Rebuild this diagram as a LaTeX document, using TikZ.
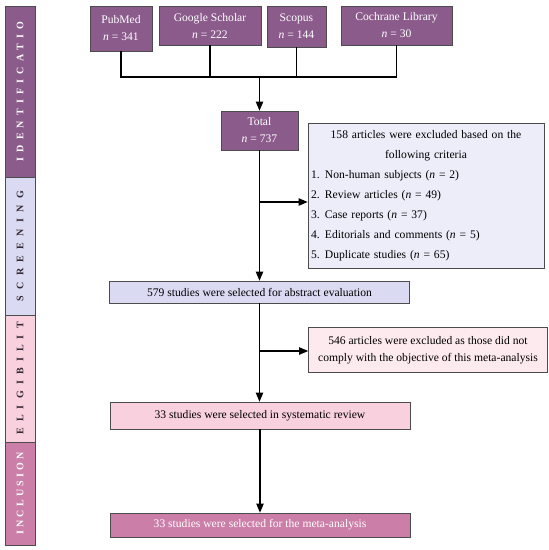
\documentclass[tikz,border=0pt]{standalone}
\usepackage{fontspec}
\setmainfont{Liberation Serif}
\usetikzlibrary{arrows, arrows.meta}

\definecolor{identpurple}{RGB}{139,91,140}
\definecolor{screenblue}{RGB}{218,218,242}
\definecolor{screenlight}{RGB}{237,237,250}
\definecolor{eligpink}{RGB}{248,208,222}
\definecolor{eliglight}{RGB}{253,234,239}
\definecolor{inclmauve}{RGB}{203,126,167}
\definecolor{bandtext}{RGB}{50,40,50}

\newcommand{\spaced}[2]{\addfontfeature{LetterSpace=#1}#2}

\tikzset{
  box/.style={draw=black!70, line width=0.7pt, inner sep=3pt, align=center,
    font=\fontsize{11.6}{17}\selectfont},
  source/.style={box, fill=identpurple, text=white},
  band/.style={draw=black!70, line width=0.7pt, minimum height=30pt,
    inner sep=0pt, rotate=90, font=\fontsize{10}{10}\selectfont\bfseries},
  flow/.style={line width=1.1pt, >=triangle 45},
}

\begin{document}
\begin{tikzpicture}[x=1pt,y=-1pt]
\useasboundingbox (0,0) rectangle (549,550);

% stage bands on the left
\node[band, fill=identpurple, text=white, minimum width=171pt] (identband) at (20,91.5) {\spaced{52}{IDENTIFICATIO}};
\node[band, fill=screenblue, text=bandtext, minimum width=138pt] (screenband) at (20,246) {\spaced{64}{SCREENING}};
\node[band, fill=eligpink, text=bandtext, minimum width=127pt] (eligband) at (20,378.5) {\spaced{62}{ELIGIBILIT}};
\node[band, fill=inclmauve, text=white, minimum width=103pt] (inclband) at (20,493.5) {\spaced{32}{INCLUSION}};

% databases
\node[source, minimum width=62pt, minimum height=45pt] (pubmed) at (121,28.5) {PubMed\\\textit{n} = 341};
\node[source, minimum width=102pt, minimum height=39pt] (scholar) at (210,25.5) {Google Scholar\\\textit{n} = 222};
\node[source, minimum width=59pt, minimum height=41pt] (scopus) at (296.5,26.5) {Scopus\\\textit{n} = 144};
\node[source, minimum width=111pt, minimum height=39pt] (cochrane) at (396.5,25.5) {Cochrane Library\\\textit{n} = 30};

\node[source, minimum width=77pt, minimum height=39pt] (total) at (259.5,130.5) {Total\\\textit{n} = 737};

% exclusions
\node[box, fill=screenlight, text width=230pt, minimum height=145pt, align=left,
  font=\fontsize{11.6}{20}\selectfont] (excl1) at (426,195.5)
  {{\centering 158 articles were excluded based on the\\ following criteria\par}
   \makebox[14pt][l]{1.}Non-human subjects (\textit{n} = 2)\\
   \makebox[14pt][l]{2.}Review articles (\textit{n} = 49)\\
   \makebox[14pt][l]{3.}Case reports (\textit{n} = 37)\\
   \makebox[14pt][l]{4.}Editorials and comments (\textit{n} = 5)\\
   \makebox[14pt][l]{5.}Duplicate studies (\textit{n} = 65)};

\node[box, fill=screenblue, minimum width=300pt, minimum height=22pt] (abstract) at (259.5,292) {579 studies were selected for abstract evaluation};

\node[box, fill=eliglight, minimum width=239pt, minimum height=45pt] (excl2) at (428,350) {546 articles were excluded as those did not\\comply with the objective of this meta-analysis};

\node[box, fill=eligpink, minimum width=300pt, minimum height=27pt] (review) at (260,415.5) {33 studies were selected in systematic review};

\node[box, fill=inclmauve, text=white, minimum width=300pt, minimum height=24pt] (final) at (260,525) {33 studies were selected for the meta-analysis};

% connectors
\coordinate (join) at (259.5,77);
\coordinate (split1) at (259.5,202);
\coordinate (split2) at (259.5,351);

\draw[flow] (pubmed.south) -- (pubmed.south |- join) -- (cochrane.south |- join) -- (cochrane.south);
\draw[flow] (scholar.south) -- (scholar.south |- join);
\draw[flow] (scopus.south) -- (scopus.south |- join);
\draw[flow, ->] (join) -- (total.north);

\draw[flow, ->] (total.south) -- (abstract.north);
\draw[flow, ->] (split1) -- (split1 -| excl1.west);

\draw[flow, ->] (abstract.south) -- (abstract.south |- review.north);
\draw[flow, ->] (split2) -- (split2 -| excl2.west);

\draw[flow, ->] (review.south) -- (review.south |- final.north);

\end{tikzpicture}
\end{document}
